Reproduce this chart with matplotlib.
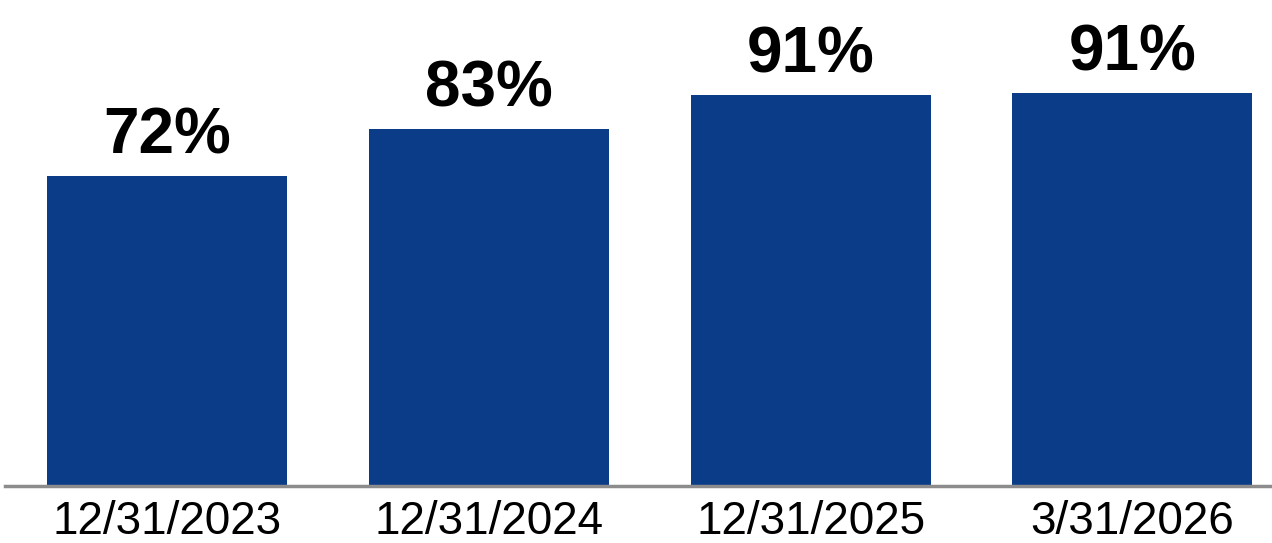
import matplotlib
matplotlib.use("Agg")
import matplotlib.pyplot as plt

dates = ["12/31/2023", "12/31/2024", "12/31/2025", "3/31/2026"]
values = [72.0, 83.0, 90.9, 91.4]
labels = ["72%", "83%", "91%", "91%"]

plt.rcParams['font.family'] = ['Liberation Sans', 'DejaVu Sans']

fig = plt.figure(figsize=(12.72, 5.43), dpi=100)
ax = fig.add_axes([0.004, 0.105, 0.996, 0.895])

x = range(len(values))
bars = ax.bar(x, values, width=0.746, color="#0b3c87")

for b, lab in zip(bars, labels):
    ax.annotate(lab, (b.get_x() + b.get_width() / 2, b.get_height()),
                xytext=(0, 7), textcoords="offset points",
                ha="center", va="bottom", fontsize=46, fontweight="bold")

ax.set_xlim(-0.504, 3.434)
ax.set_ylim(0, 113)
ax.set_xticks(list(x))
ax.set_xticklabels(dates, fontsize=33)
ax.tick_params(axis="x", length=0, pad=10)
ax.set_yticks([])
for s in ["top", "right", "left"]:
    ax.spines[s].set_visible(False)
ax.spines["bottom"].set_color("#8c8c8c")
ax.spines["bottom"].set_linewidth(2.5)

fig.savefig("out.png", dpi=100)
